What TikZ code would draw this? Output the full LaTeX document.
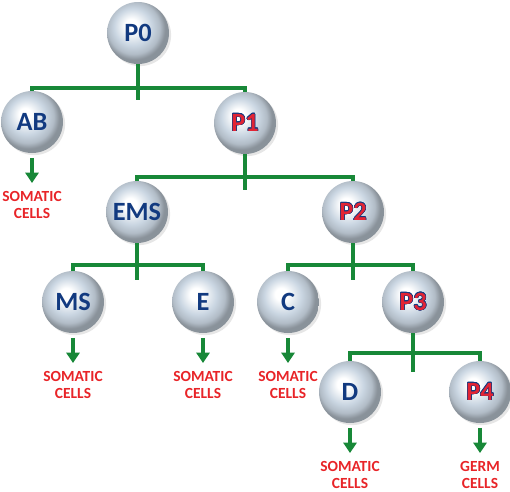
\documentclass[tikz,border=0pt]{standalone}
\usepackage{fontspec}
\setmainfont{Carlito}
\usepackage{contour}
\usepackage{tikz}
\usetikzlibrary{positioning}
\usetikzlibrary{arrows.meta}
\usetikzlibrary{shadows}

\definecolor{linegreen}{RGB}{24,136,56}
\definecolor{cellblue}{RGB}{18,58,128}
\definecolor{cellred}{RGB}{226,36,52}
\definecolor{fatered}{RGB}{232,36,40}
\definecolor{ballmid}{RGB}{202,214,226}
\contourlength{0.3pt}

\pgfdeclareradialshading{cellball}{\pgfpoint{-6bp}{7bp}}{%
  color(0bp)=(white); color(5bp)=(white); color(15bp)=(ballmid);
  color(21bp)=(ballmid!88!black); color(25bp)=(ballmid!68!black);
  color(50bp)=(ballmid!68!black)}

\begin{document}
\begin{tikzpicture}[x=0.02cm, y=-0.02cm, node distance=0.76cm,
  every node/.style={font=\bfseries},
  cell/.style={circle, minimum size=1.24cm, inner sep=0pt, outer sep=0pt, shading=cellball,
    drop shadow={opacity=0.2, shadow xshift=1.2pt, shadow yshift=-1.2pt},
    font=\fontsize{15}{17}\selectfont\bfseries, text=cellblue},
  germ/.style={cell, text=cellred},
  fate/.style={inner sep=0pt, align=center, text=fatered, font=\fontsize{8.8}{9.6}\selectfont\bfseries},
  bar/.style={draw=linegreen, line width=1.9pt},
  fatearrow/.style={draw=linegreen, line width=2.8pt, shorten <=2.8pt, shorten >=4.5pt,
    -{Triangle[width=7.5pt, length=6pt]}}]

\useasboundingbox (0,0) rectangle (510,491);

% cells
\node (p0) [cell] at (138,33) {P0};
\node (ab) [cell] at (32,122) {AB};
\node (p1) [germ] at (245,123) {\contour{cellblue}{P1}};
\node (ems) [cell] at (137,212) {EMS};
\node (p2) [germ] at (353,212) {\contour{cellblue}{P2}};
\node (ms) [cell] at (73,302) {MS};
\node (e) [cell] at (203,302) {E};
\node (c) [cell] at (288,302) {C};
\node (p3) [germ] at (413,302) {\contour{cellblue}{P3}};
\node (d) [cell] at (350,392) {D};
\node (p4) [germ] at (480,392) {\contour{cellblue}{P4}};

% fates
\node (abf) [fate, below=of ab] {SOMATIC\\CELLS};
\node (msf) [fate, below=of ms] {SOMATIC\\CELLS};
\node (ef) [fate, below=of e] {SOMATIC\\CELLS};
\node (cf) [fate, below=of c] {SOMATIC\\CELLS};
\node (df) [fate, below=of d] {SOMATIC\\CELLS};
\node (p4f) [fate, below=of p4] {GERM\\CELLS};

% divisions
\coordinate (j0) at (138,88);  \coordinate (t0) at (138,100);
\coordinate (j1) at (245,177); \coordinate (t1) at (245,190);
\coordinate (j2) at (137,265); \coordinate (t2) at (137,280);
\coordinate (j3) at (353,265); \coordinate (t3) at (353,280);
\coordinate (j4) at (413,353); \coordinate (t4) at (413,372);

\draw[bar] (p0) -- (t0);
\draw[bar] (ab) |- (j0) -| (p1);
\draw[bar] (p1) -- (t1);
\draw[bar] (ems) |- (j1) -| (p2);
\draw[bar] (ems) -- (t2);
\draw[bar] (ms) |- (j2) -| (e);
\draw[bar] (p2) -- (t3);
\draw[bar] (c) |- (j3) -| (p3);
\draw[bar] (p3) -- (t4);
\draw[bar] (d) |- (j4) -| (p4);

\draw[fatearrow] (ab) -- (abf);
\draw[fatearrow] (ms) -- (msf);
\draw[fatearrow] (e) -- (ef);
\draw[fatearrow] (c) -- (cf);
\draw[fatearrow] (d) -- (df);
\draw[fatearrow] (p4) -- (p4f);

\end{tikzpicture}
\end{document}
